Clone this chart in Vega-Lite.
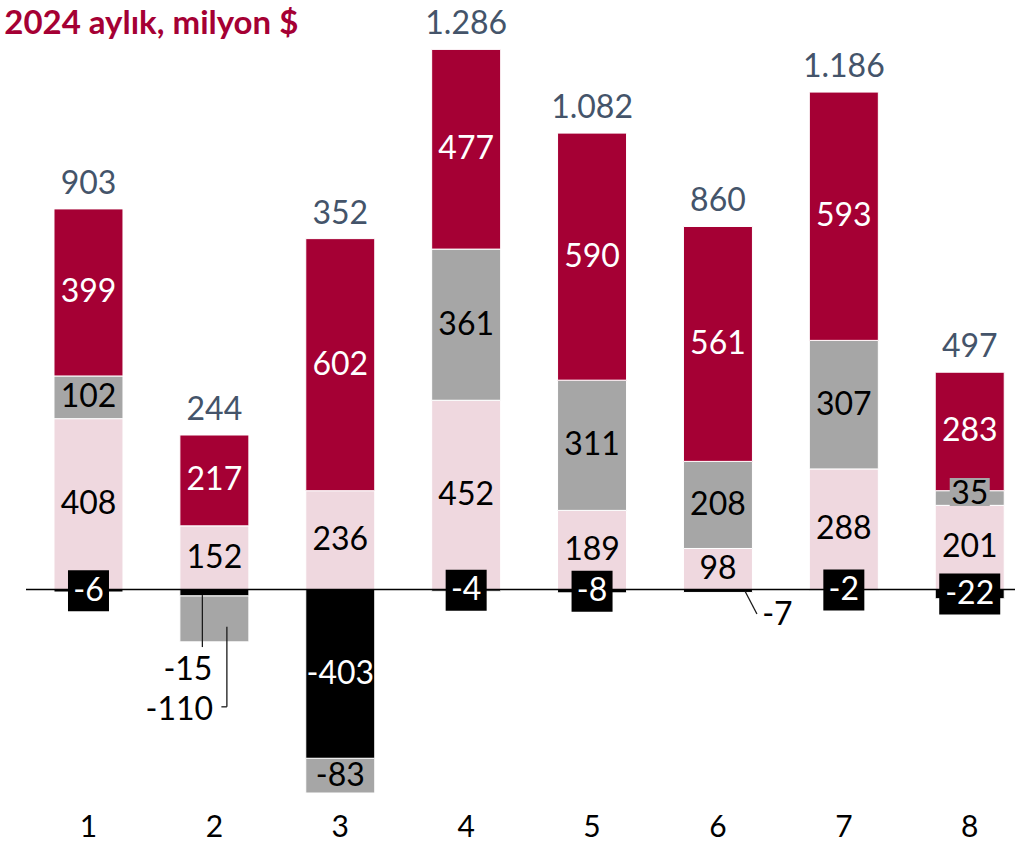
{
  "$schema": "https://vega.github.io/schema/vega-lite/v6.json",
  "width": 989,
  "height": 760,
  "autosize": {"type": "none"},
  "padding": {"left": 26, "top": 40, "right": 0, "bottom": 41},
  "background": "white",
  "config": {
    "view": {"stroke": null},
    "font": "Lato",
    "locale": {"number": {"decimal": ",", "thousands": ".", "grouping": [3], "currency": ["", " $"], "minus": "-"}},
    "axisX": {"domain": false, "ticks": false, "grid": false, "labelAngle": 0, "labelFontSize": 30, "labelColor": "#000000", "labelPadding": 12, "labelFont": "Lato"}
  },
  "title": {"text": "2024 aylık, milyon $", "anchor": "start", "fontSize": 33, "fontWeight": "bold", "color": "#A50034", "font": "Lato", "dx": -21, "offset": -33},
  "data": {"values": [
    {"month": 1, "series": "A", "value": 408}, {"month": 1, "series": "B", "value": 102}, {"month": 1, "series": "C", "value": 399}, {"month": 1, "series": "D", "value": -6},
    {"month": 2, "series": "A", "value": 152}, {"month": 2, "series": "B", "value": -110}, {"month": 2, "series": "C", "value": 217}, {"month": 2, "series": "D", "value": -15},
    {"month": 3, "series": "A", "value": 236}, {"month": 3, "series": "B", "value": -83}, {"month": 3, "series": "C", "value": 602}, {"month": 3, "series": "D", "value": -403},
    {"month": 4, "series": "A", "value": 452}, {"month": 4, "series": "B", "value": 361}, {"month": 4, "series": "C", "value": 477}, {"month": 4, "series": "D", "value": -4},
    {"month": 5, "series": "A", "value": 189}, {"month": 5, "series": "B", "value": 311}, {"month": 5, "series": "C", "value": 590}, {"month": 5, "series": "D", "value": -8},
    {"month": 6, "series": "A", "value": 98}, {"month": 6, "series": "B", "value": 208}, {"month": 6, "series": "C", "value": 561}, {"month": 6, "series": "D", "value": -7},
    {"month": 7, "series": "A", "value": 288}, {"month": 7, "series": "B", "value": 307}, {"month": 7, "series": "C", "value": 593}, {"month": 7, "series": "D", "value": -2},
    {"month": 8, "series": "A", "value": 201}, {"month": 8, "series": "B", "value": 35}, {"month": 8, "series": "C", "value": 283}, {"month": 8, "series": "D", "value": -22}
  ]},
  "transform": [
    {"calculate": "indexof(['D','A','B','C'], datum.series)", "as": "ord"},
    {"stack": "value", "groupby": ["month"], "sort": [{"field": "ord", "order": "ascending"}], "as": ["v0", "v1"]},
    {"calculate": "(datum.v0 + datum.v1) / 2", "as": "mid"},
    {"calculate": "(datum.month == 2 && (datum.series == 'D' || datum.series == 'B')) || (datum.month == 6 && datum.series == 'D')", "as": "leader"}
  ],
  "layer": [
    {
      "mark": {"type": "bar", "stroke": "white", "strokeWidth": 1},
      "encoding": {
        "x": {"field": "month", "type": "ordinal", "title": null, "scale": {"paddingInner": 0.452, "paddingOuter": 0.154, "align": 0.722, "round": false}},
        "y": {"field": "v0", "type": "quantitative", "scale": {"domain": [-502.7, 1312.4], "nice": false, "zero": false}, "axis": null},
        "y2": {"field": "v1"},
        "color": {"field": "series", "type": "nominal", "scale": {"domain": ["A", "B", "C", "D"], "range": ["#EFD8DF", "#A6A6A6", "#A50034", "#000000"]}, "legend": null}
      }
    },
    {
      "transform": [{"filter": "datum.month == 1 && datum.series == 'A'"}],
      "mark": {"type": "rule", "color": "#000000", "strokeWidth": 1.5},
      "encoding": {"y": {"datum": 0, "type": "quantitative"}}
    },
    {
      "transform": [{"filter": "!datum.leader && ((datum.series == 'D' && datum.value > -50) || (datum.series == 'B' && datum.value > 0 && datum.value < 50))"}],
      "mark": {"type": "point", "filled": true, "opacity": 1, "strokeWidth": 0},
      "encoding": {
        "x": {"field": "month", "type": "ordinal", "title": null},
        "y": {"field": "mid", "type": "quantitative"},
        "color": {"field": "series", "type": "nominal", "legend": null},
        "shape": {"condition": [{"test": "datum.series == 'B'", "value": "M-1,-1H1V0.4H-1Z"}, {"test": "datum.value <= -10", "value": "M-1,-0.672H1V0.672H-1Z"}], "value": "M-1,-1H1V1H-1Z"},
        "size": {"condition": [{"test": "datum.series == 'B'", "value": 1600}, {"test": "datum.value <= -10", "value": 3721}], "value": 1681}
      }
    },
    {
      "transform": [{"filter": "!datum.leader && !(datum.series == 'B' && datum.value > 0 && datum.value < 50)"}],
      "mark": {"type": "text", "fontSize": 32, "baseline": "middle", "font": "Lato"},
      "encoding": {
        "x": {"field": "month", "type": "ordinal", "title": null},
        "y": {"field": "mid", "type": "quantitative"},
        "text": {"field": "value", "type": "quantitative", "format": "d"},
        "color": {"condition": {"test": "datum.series == 'C' || datum.series == 'D'", "value": "#FFFFFF"}, "value": "#000000"}
      }
    },
    {
      "transform": [{"filter": "datum.series == 'B' && datum.value > 0 && datum.value < 50"}],
      "mark": {"type": "text", "fontSize": 32, "baseline": "middle", "font": "Lato", "color": "#000000", "dy": -4},
      "encoding": {
        "x": {"field": "month", "type": "ordinal", "title": null},
        "y": {"field": "mid", "type": "quantitative"},
        "text": {"field": "value", "type": "quantitative", "format": "d"}
      }
    },
    {
      "transform": [{"filter": "datum.month == 2 && datum.series == 'D'"}],
      "mark": {"type": "text", "fontSize": 32, "baseline": "middle", "font": "Lato", "color": "#000000", "dx": -26.5, "dy": 77},
      "encoding": {
        "x": {"field": "month", "type": "ordinal", "title": null},
        "y": {"field": "mid", "type": "quantitative"},
        "text": {"field": "value", "type": "quantitative", "format": "d"}
      }
    },
    {
      "transform": [{"filter": "datum.month == 2 && datum.series == 'B'"}],
      "mark": {"type": "text", "fontSize": 32, "baseline": "middle", "font": "Lato", "color": "#000000", "dx": -35, "dy": 91},
      "encoding": {
        "x": {"field": "month", "type": "ordinal", "title": null},
        "y": {"field": "mid", "type": "quantitative"},
        "text": {"field": "value", "type": "quantitative", "format": "d"}
      }
    },
    {
      "transform": [{"filter": "datum.month == 6 && datum.series == 'D'"}],
      "mark": {"type": "text", "fontSize": 32, "baseline": "middle", "font": "Lato", "color": "#000000", "dx": 59.5, "dy": 24},
      "encoding": {
        "x": {"field": "month", "type": "ordinal", "title": null},
        "y": {"field": "mid", "type": "quantitative"},
        "text": {"field": "value", "type": "quantitative", "format": "d"}
      }
    },
    {
      "transform": [{"filter": "datum.month == 2 && datum.series == 'D'"}],
      "mark": {"type": "rule", "color": "#1a1a1a", "strokeWidth": 1.3, "xOffset": -12, "yOffset": 2.4, "y2Offset": 54.4},
      "encoding": {
        "x": {"field": "month", "type": "ordinal", "title": null},
        "y": {"field": "mid", "type": "quantitative"},
        "y2": {"field": "mid"}
      }
    },
    {
      "transform": [{"filter": "datum.month == 2 && datum.series == 'B'"}],
      "mark": {"type": "rule", "color": "#1a1a1a", "strokeWidth": 1.3, "xOffset": 12.5, "yOffset": 8, "y2Offset": 88},
      "encoding": {
        "x": {"field": "month", "type": "ordinal", "title": null},
        "y": {"field": "mid", "type": "quantitative"},
        "y2": {"field": "mid"}
      }
    },
    {
      "transform": [{"filter": "datum.month == 2 && datum.series == 'B'"}],
      "mark": {"type": "rule", "color": "#1a1a1a", "strokeWidth": 1.3, "xOffset": 12.5, "x2Offset": 7, "yOffset": 88},
      "encoding": {
        "x": {"field": "month", "type": "ordinal", "title": null},
        "x2": {"field": "month"},
        "y": {"field": "mid", "type": "quantitative"}
      }
    },
    {
      "transform": [{"filter": "datum.month == 6 && datum.series == 'D'"}],
      "mark": {"type": "rule", "color": "#1a1a1a", "strokeWidth": 1.3, "xOffset": 27, "x2Offset": 39, "yOffset": 0, "y2Offset": 23},
      "encoding": {
        "x": {"field": "month", "type": "ordinal", "title": null},
        "x2": {"field": "month"},
        "y": {"field": "mid", "type": "quantitative"},
        "y2": {"field": "mid"}
      }
    },
    {
      "transform": [{"aggregate": [{"op": "sum", "field": "value", "as": "total"}, {"op": "max", "field": "v1", "as": "top"}], "groupby": ["month"]}],
      "mark": {"type": "text", "fontSize": 32, "baseline": "middle", "font": "Lato", "color": "#44546A", "dy": -25},
      "encoding": {
        "x": {"field": "month", "type": "ordinal", "title": null},
        "y": {"field": "top", "type": "quantitative"},
        "text": {"field": "total", "type": "quantitative", "format": ",d"}
      }
    }
  ]
}
